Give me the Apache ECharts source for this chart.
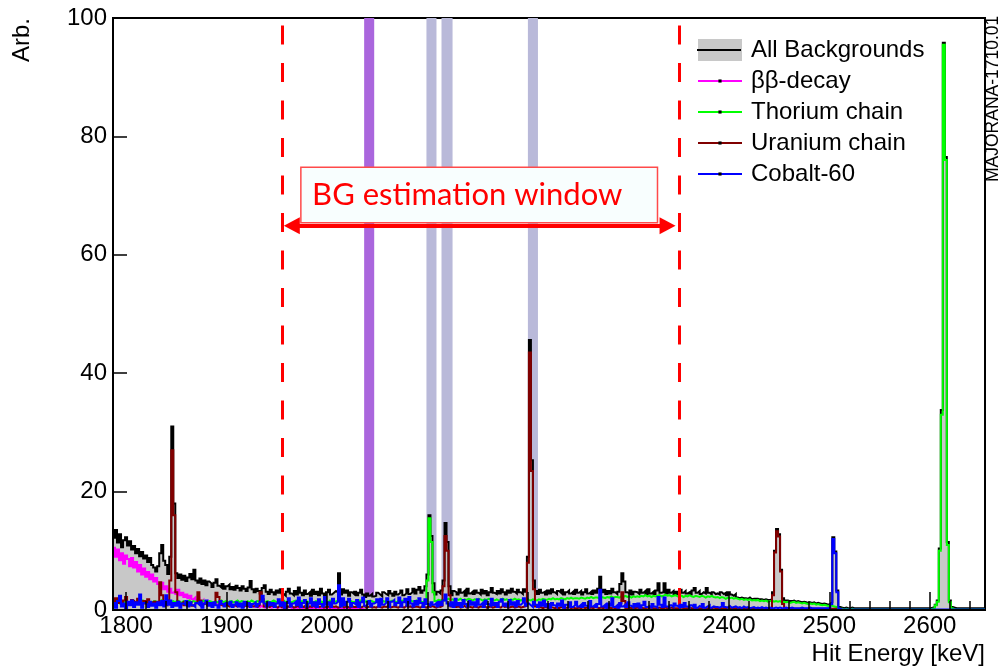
<!DOCTYPE html>
<html>
<head>
<meta charset="utf-8">
<script src="https://cdn.jsdelivr.net/npm/echarts@6/dist/echarts.min.js"></script>
<style>
  html, body { margin: 0; padding: 0; background: #ffffff; }
  #chart { width: 1004px; height: 666px; }
</style>
</head>
<body>
<div id="chart"></div>
<script>
// ---- Axis ranges and binning (keV) ----
const energyMin = 1787;
const energyMax = 2655;
const binStart = 1787;
const binWidth = 2;
const majorTicks = [1800, 1900, 2000, 2100, 2200, 2300, 2400, 2500, 2600];
const minorTicks = [1800, 1820, 1840, 1860, 1880, 1900, 1920, 1940, 1960, 1980, 2000, 2020, 2040, 2060, 2080,
  2100, 2120, 2140, 2160, 2180, 2200, 2220, 2240, 2260, 2280, 2300, 2320, 2340, 2360, 2380, 2400, 2420, 2440,
  2460, 2480, 2500, 2520, 2540, 2560, 2580, 2600, 2620, 2640];

// ---- Histogram contents, one value per 2 keV bin starting at binStart ----
const allBackgrounds = [
  12.2,13.5,11.4,12.8,10.6,11.8,12.3,10.9,11.6,10.2,
  10.8,9.6,10.3,9.1,9.8,8.7,9.2,8.1,8.8,7.6,
  7.2,6.5,7.4,9.6,11.0,8.3,7.6,6.1,9.0,31.0,
  18.0,6.2,5.4,6.0,5.1,5.8,4.9,5.5,6.1,5.2,
  6.8,5.0,4.6,5.3,4.4,5.0,4.2,4.8,4.5,3.9,
  4.6,5.2,4.1,3.8,4.4,3.6,4.0,4.3,3.5,3.9,
  3.4,4.1,3.7,3.3,4.0,3.6,3.2,3.8,4.9,3.5,
  3.0,3.6,3.2,2.8,3.7,4.2,3.1,2.7,3.4,3.0,
  2.6,3.3,2.9,3.5,2.7,2.4,3.1,3.6,2.8,2.5,
  3.2,2.6,3.8,2.9,2.5,3.3,2.7,3.0,2.4,3.4,
  2.7,3.1,2.5,3.6,2.8,2.3,3.0,3.4,2.6,2.9,
  3.2,3.0,6.2,2.6,3.5,2.9,3.3,2.4,3.0,2.7,
  3.1,2.5,2.9,3.4,2.6,2.2,2.8,2.4,2.7,2.3,
  2.4,2.9,2.6,2.3,3.0,2.7,2.5,3.2,2.8,2.4,
  3.1,2.6,2.9,3.3,2.5,2.8,3.5,2.7,3.0,3.6,
  2.8,3.4,3.9,2.9,3.3,4.0,6.0,16.0,12.5,4.5,
  2.6,3.1,2.8,3.3,5.0,14.7,11.5,4.0,2.5,3.2,
  3.0,2.6,3.5,2.9,3.2,2.4,3.6,2.8,3.1,2.7,
  3.3,2.9,2.6,3.4,2.8,3.2,2.5,3.0,3.7,2.9,
  2.7,3.2,2.8,3.5,3.0,2.6,3.3,2.9,3.6,3.1,
  2.8,3.4,3.0,2.7,3.5,3.1,9.0,45.6,25.3,5.0,
  3.2,2.7,3.4,2.9,3.1,2.6,3.3,2.8,3.5,3.0,
  2.7,3.2,2.9,3.4,2.6,3.0,3.3,2.8,3.1,2.7,
  3.4,2.9,3.2,2.6,3.0,3.5,2.8,3.1,2.7,3.3,
  2.9,3.6,5.6,3.0,3.4,2.7,3.2,2.8,3.6,3.0,
  2.7,3.1,4.4,6.2,4.8,3.0,2.8,3.3,2.6,3.1,
  3.0,2.7,3.4,2.9,3.2,2.6,3.5,2.8,3.1,2.7,
  3.3,4.5,2.9,3.0,4.5,2.8,3.4,2.9,3.2,2.6,
  3.1,2.7,3.4,2.9,3.2,2.8,3.0,2.6,3.3,3.7,
  2.9,3.2,2.7,3.0,2.8,3.7,2.9,2.6,3.0,2.7,
  2.8,2.6,3.0,2.7,2.9,2.5,3.0,2.6,2.4,2.7,
  2.1,2.0,2.1,2.0,2.0,1.9,2.1,1.8,1.9,1.9,
  1.9,1.8,1.8,1.7,1.8,1.7,1.7,1.8,3.0,10.0,
  13.7,12.8,6.8,2.0,1.6,1.6,1.5,1.5,1.6,1.4,
  1.5,1.4,1.3,1.4,1.3,1.2,1.3,1.2,1.3,1.1,
  1.2,1.1,1.0,1.1,1.0,0.9,1.0,1.3,12.3,9.9,
  3.3,0.5,0.4,0.3,0.4,0.3,0.3,0.4,0.3,0.3,
  0.3,0.3,0.3,0.3,0.3,0.3,0.3,0.3,0.3,0.3,
  0.3,0.3,0.3,0.3,0.3,0.3,0.3,0.3,0.3,0.3,
  0.3,0.3,0.3,0.3,0.3,0.3,0.3,0.3,0.3,0.3,
  0.3,0.3,0.3,0.3,0.3,0.3,0.3,0.4,0.5,0.9,
  1.6,10.4,33.8,95.8,76.5,11.5,1.6,0.5,0.4,0.3,
  0.3,0.3,0.3,0.3,0.3,0.3,0.3,0.3,0.3,0.3,
  0.3,0.3,0.3,0.3
];

const bbDecay = [
  10.5,9.0,10.2,8.4,9.6,7.8,9.2,8.6,7.4,8.8,
  7.2,8.1,6.5,7.6,6.0,7.0,5.6,6.4,5.2,6.0,
  4.8,5.4,4.4,3.8,4.6,3.5,4.0,3.1,3.6,2.9,
  3.2,2.7,3.4,2.5,2.9,2.2,2.6,2.0,2.4,1.8,
  2.1,1.6,1.9,1.4,1.7,1.2,1.5,1.1,1.3,1.0,
  1.2,0.9,1.1,0.8,1.0,0.7,0.9,0.8,0.6,0.9,
  0.7,0.8,0.6,0.7,0.5,0.8,0.6,0.5,0.7,0.6,
  0.5,0.6,0.4,0.7,0.5,0.4,0.6,0.5,0.4,0.5,
  0.5,0.3,0.6,0.4,0.5,0.3,0.4,0.6,0.3,0.4,
  0.4,0.3,0.5,0.3,0.4,0.3,0.4,0.3,0.3,0.4,
  0.3,0.4,0.3,0.2,0.4,0.3,0.2,0.3,0.3,0.2,
  0.3,0.2,0.3,0.2,0.2,0.3,0.2,0.2,0.3,0.2,
  0.2,0.2,0.1,0.2,0.1,0.1
];

const thoriumChain = [
  1.3,1.5,1.2,1.6,1.4,1.3,1.5,1.2,1.4,1.6,
  1.3,1.4,1.5,1.2,1.6,1.4,1.3,1.5,1.2,1.4,
  1.5,1.3,1.4,1.6,1.2,1.4,1.5,1.3,1.4,1.5,
  1.3,1.6,1.4,1.2,1.5,1.3,1.4,1.6,1.3,1.5,
  1.4,1.2,1.5,1.3,1.6,1.4,1.3,1.5,1.4,1.2,
  1.5,1.3,1.4,1.6,1.3,1.5,1.2,1.4,1.5,1.3,
  1.4,1.6,1.3,1.5,1.4,1.2,1.5,1.3,1.6,1.4,
  1.3,1.5,1.4,1.6,1.3,1.4,1.5,1.3,1.4,1.6,
  1.4,1.3,1.5,1.4,1.6,1.3,1.5,1.4,1.3,1.5,
  1.6,1.4,1.3,1.5,1.4,1.6,1.3,1.5,1.4,1.3,
  1.5,1.4,1.6,1.3,1.5,1.4,1.3,1.6,1.4,1.5,
  1.4,1.6,1.3,1.5,1.4,1.3,1.5,1.6,1.4,1.3,
  1.5,1.4,1.6,1.4,1.3,1.5,1.4,1.6,1.5,1.3,
  1.4,1.5,1.3,1.6,1.4,1.5,1.3,1.4,1.6,1.5,
  1.3,1.5,1.4,1.6,1.5,1.3,1.4,1.6,1.5,1.4,
  1.6,1.4,1.5,1.3,1.5,1.6,5.0,15.5,11.5,3.0,
  1.5,1.7,1.6,1.8,1.6,1.7,1.9,1.7,1.8,1.6,
  1.8,1.7,1.9,1.6,1.8,1.7,1.9,1.8,1.6,1.8,
  1.7,1.9,1.8,1.6,1.8,1.7,1.9,1.8,1.7,1.6,
  1.8,1.6,1.7,1.9,1.7,1.8,1.6,1.8,1.7,1.9,
  1.7,1.8,1.6,1.8,1.7,1.9,1.7,1.6,1.8,1.7,
  1.6,1.8,1.7,1.9,1.8,1.7,1.9,1.8,2.0,1.8,
  1.9,1.8,2.0,1.9,1.8,2.0,1.9,2.1,1.9,2.0,
  2.0,1.9,2.1,2.0,1.9,2.1,2.0,2.2,2.0,2.1,
  2.1,2.0,2.2,2.1,2.0,2.2,2.1,2.3,2.1,2.2,
  2.2,2.1,2.3,2.2,2.4,2.2,2.3,2.1,2.3,2.2,
  2.3,2.2,2.4,2.3,2.5,2.3,2.4,2.2,2.4,2.3,
  2.4,2.5,2.3,2.4,2.6,2.4,2.5,2.3,2.4,2.5,
  2.3,2.5,2.4,2.2,2.4,2.3,2.5,2.3,2.2,2.4,
  2.3,2.2,2.4,2.3,2.1,2.3,2.2,2.4,2.2,2.1,
  2.2,2.0,2.2,2.1,1.9,2.1,2.0,2.1,1.9,2.0,
  1.9,1.8,1.9,1.7,1.8,1.7,1.8,1.6,1.7,1.6,
  1.7,1.5,1.6,1.5,1.6,1.4,1.5,1.6,1.4,1.5,
  1.4,1.5,1.3,1.4,1.3,1.4,1.2,1.3,1.4,1.2,
  1.3,1.2,1.1,1.2,1.1,1.0,1.1,1.0,1.1,0.9,
  1.0,0.9,0.8,0.9,0.8,0.7,0.8,0.7,0.6,0.5,
  0.3,0.2,0.2,0.1,0.2,0.1,0.1,0.2,0.1,0.1,
  0.1,0.1,0.1,0.1,0.1,0.1,0.1,0.1,0.1,0.1,
  0.1,0.1,0.1,0.1,0.1,0.1,0.1,0.1,0.1,0.1,
  0.1,0.1,0.1,0.1,0.1,0.1,0.1,0.1,0.1,0.1,
  0.1,0.1,0.1,0.1,0.1,0.1,0.1,0.2,0.3,0.8,
  1.4,10.0,33.0,95.5,76.0,11.0,1.3,0.3,0.1,0.1,
  0.1,0.1,0.1,0.1,0.1,0.1,0.1,0.1,0.1,0.1,
  0.1,0.1,0.1,0.1
];

const uraniumChain = [
  1.5,2.0,1.2,1.8,1.0,1.6,2.2,1.3,1.1,1.7,
  1.4,1.0,1.9,1.2,0.9,1.5,1.1,1.8,1.0,1.3,
  0.9,1.4,1.0,4.7,2.5,1.2,0.9,1.6,5.0,27.0,
  16.0,3.0,1.4,1.0,1.3,0.8,1.1,0.9,1.2,0.7,
  1.0,1.3,3.0,1.6,0.9,1.1,0.8,1.0,0.7,0.9,
  1.2,2.9,2.2,0.9,0.7,1.0,0.8,0.6,0.9,0.7,
  0.8,0.6,0.9,0.7,0.5,0.8,0.6,0.9,0.7,0.6,
  0.7,0.5,0.8,3.0,1.8,0.6,0.7,0.5,0.8,0.6,
  0.6,0.4,0.7,0.5,0.8,0.4,0.6,0.5,0.7,0.4,
  0.5,0.7,0.4,0.6,0.5,0.8,0.4,0.6,0.5,0.7,
  0.4,0.6,0.5,0.7,0.4,0.5,0.6,0.4,0.7,0.5,
  0.6,0.4,0.5,0.7,0.4,0.6,0.5,0.4,0.6,0.5,
  0.5,0.6,0.4,0.5,0.7,0.4,0.5,0.6,0.4,0.5,
  0.4,0.6,0.5,0.4,0.6,0.5,0.7,0.4,0.5,0.6,
  0.5,0.4,0.6,0.5,0.4,0.7,0.5,0.6,0.4,0.5,
  0.6,0.5,0.4,0.6,0.5,0.4,0.6,0.5,0.7,0.5,
  0.4,0.6,0.5,0.7,4.0,12.5,10.0,2.5,0.6,0.5,
  0.5,0.6,0.4,0.5,0.7,0.4,0.6,0.5,0.4,0.6,
  0.5,0.4,0.6,0.5,0.7,0.4,0.5,0.6,0.4,0.5,
  0.6,0.5,0.4,0.7,0.5,0.6,0.4,0.5,0.6,0.4,
  0.5,0.6,0.4,0.5,0.6,0.7,8.0,43.5,23.5,3.5,
  0.6,0.4,0.5,0.3,0.5,0.4,0.3,0.5,0.4,0.3,
  0.4,0.3,0.5,0.4,0.3,0.4,0.5,0.3,0.4,0.3,
  0.3,0.4,0.3,0.5,0.3,0.4,0.3,0.4,0.3,0.5,
  0.4,0.3,0.4,0.3,0.5,0.3,0.4,0.3,0.4,0.3,
  0.3,0.4,1.2,3.0,1.5,0.3,0.4,0.3,0.4,0.3,
  0.4,0.3,0.4,0.3,0.3,0.4,0.3,0.4,0.3,0.3,
  0.3,0.4,0.3,0.3,0.4,0.3,0.3,0.4,0.3,0.3,
  0.3,0.3,0.4,0.3,0.3,0.3,0.4,0.3,0.3,0.3,
  0.3,0.3,0.3,0.4,0.3,0.3,0.3,0.3,0.4,0.3,
  0.3,0.3,0.3,0.3,0.3,0.4,0.3,0.3,0.3,0.3,
  0.3,0.3,0.3,0.3,0.3,0.3,0.3,0.3,0.3,0.3,
  0.3,0.3,0.3,0.3,0.3,0.3,0.3,0.3,2.5,9.7,
  13.3,12.4,6.5,1.0,0.3,0.3,0.3,0.3,0.2,0.2,
  0.2,0.2,0.2,0.2,0.2,0.2,0.2,0.2,0.2,0.2,
  0.2,0.2,0.2,0.2,0.2,0.2,0.2,0.2,0.2,0.2
];

const cobalt60 = [
  1.2,0.4,1.5,2.4,0.6,1.1,0.3,1.4,0.8,1.6,
  0.5,1.3,0.9,2.6,0.4,1.2,1.0,0.5,1.4,0.7,
  1.1,0.4,1.3,0.8,1.5,0.6,2.5,0.9,1.6,0.5,
  1.2,0.7,1.4,0.4,1.1,0.9,1.5,0.6,1.3,0.8,
  0.5,1.2,0.9,1.4,0.4,1.1,1.6,0.7,1.2,0.5,
  1.3,0.8,0.4,1.5,1.0,0.6,1.2,0.9,1.4,0.5,
  0.9,1.3,0.6,1.1,0.4,1.4,0.8,1.2,0.5,1.0,
  1.3,0.6,1.0,1.4,2.4,1.1,0.6,1.3,0.8,1.2,
  0.5,1.1,1.8,0.7,1.3,0.4,1.2,2.0,0.6,1.1,
  1.4,0.8,2.1,0.5,1.2,1.7,0.6,1.1,2.0,0.7,
  1.3,0.5,1.8,1.0,0.6,2.2,0.9,1.3,0.5,1.9,
  1.1,1.4,4.2,0.6,2.0,0.8,1.4,1.9,0.6,1.2,
  0.9,1.7,0.5,1.3,2.1,0.7,1.0,1.5,0.6,1.1,
  1.3,1.8,0.6,1.9,0.9,1.2,2.0,0.5,1.4,1.7,
  0.8,1.2,2.1,0.6,1.3,1.9,0.7,2.2,1.1,0.6,
  1.5,0.9,2.0,1.2,0.5,1.8,1.0,0.7,1.3,0.9,
  1.2,0.6,1.4,0.8,1.6,2.6,1.1,0.7,1.3,0.5,
  1.9,0.8,1.2,0.5,1.7,1.0,0.6,1.5,0.9,1.3,
  0.6,1.8,0.9,1.2,0.5,1.6,1.0,0.7,1.9,0.8,
  1.2,0.5,1.4,1.8,0.7,1.1,0.6,1.7,0.9,1.3,
  0.6,1.5,0.9,1.2,2.0,0.7,1.1,0.8,0.5,1.4,
  0.9,0.5,1.3,0.7,1.6,0.6,1.0,0.4,1.2,0.8,
  0.5,1.1,0.7,1.6,0.4,0.9,0.6,1.3,0.5,0.8,
  1.4,0.6,0.9,0.5,1.2,0.7,0.4,1.5,0.6,0.9,
  0.5,1.0,3.4,0.6,0.9,0.4,1.1,0.7,2.0,0.5,
  0.8,0.4,1.2,0.6,0.9,0.5,1.3,0.7,0.4,1.0,
  0.6,1.1,0.4,0.8,1.4,0.5,0.7,0.4,1.0,0.6,
  0.4,2.2,0.9,0.5,2.1,0.6,0.4,0.8,0.5,1.1,
  0.7,0.4,0.9,0.5,1.2,0.6,0.4,0.8,0.5,0.9,
  0.4,0.7,0.5,1.0,0.4,0.6,0.8,0.4,0.6,0.5,
  0.5,0.4,0.6,1.2,0.5,0.4,0.7,0.4,0.5,0.6,
  0.4,0.5,0.3,0.6,0.4,0.5,0.3,0.4,0.5,0.3,
  0.4,0.3,0.5,0.3,0.4,0.3,0.4,0.3,0.3,0.4,
  0.3,0.4,0.3,0.3,0.4,0.3,0.3,0.4,0.3,0.3,
  0.3,0.3,0.4,0.3,0.3,0.3,0.4,0.3,0.3,0.3,
  0.3,0.3,0.3,0.3,0.3,0.3,0.4,1.0,12.0,9.6,
  3.0,0.2,0.1,0.1,0.1,0.1,0.1,0.1,0.1,0.1,
  0.1,0.1,0.1,0.1,0.1,0.1,0.1,0.1,0.1,0.1,
  0.1,0.1,0.1,0.1,0.1,0.1,0.1,0.1,0.1,0.1,
  0.1,0.1,0.1,0.1,0.1,0.1,0.1,0.1,0.1,0.1,
  0.1,0.1,0.1,0.1,0.1,0.1,0.1,0.1,0.1,0.1,
  0.1,0.1,0.1,0.1,0.1,0.1,0.1,0.1,0.1,0.1,
  0.1,0.1,0.1,0.1,0.1,0.1,0.1,0.1,0.1,0.1,
  0.1,0.1,0.1,0.1
];

// ---- Analysis windows (keV) ----
const bgWindow = [1955, 2351];
const qbbWindow = [2037, 2047];
const excludedPeaks = [[2099, 2109], [2114, 2125], [2200, 2210]];
const windowArrow = { from: 1965, to: 2339, level: 64.9 };
const windowLabel = { text: 'BG estimation window', from: [1974, 74.8], to: [2329, 65.4] };

const seriesNames = ['All Backgrounds', 'ββ-decay', 'Thorium chain', 'Uranium chain', 'Cobalt-60'];
const seriesColors = ['#000000', '#ff00ff', '#00ff00', '#800000', '#0000ff'];

// Turn bin contents into step-line points that close down to zero at both ends
function histPoints(values) {
  const pts = [[binStart, 0]];
  values.forEach((v, i) => pts.push([binStart + i * binWidth, v]));
  const end = binStart + values.length * binWidth;
  pts.push([end, values[values.length - 1]]);
  pts.push([end, 0]);
  return pts;
}

// Tiny centred square used as the legend marker dot
const dotSymbol = 'path://M0,0L0,0M41,41L59,41L59,59L41,59ZM100,100L100,100';

const FONT = '"Liberation Sans", Arial, Helvetica, sans-serif';
const legendBox = { left: 697, top: 38, itemWidth: 44, itemHeight: 22, rowHeight: 24 };

function histSeries(idx, values, z, extra) {
  return Object.assign({
    name: seriesNames[idx],
    type: 'line',
    step: 'end',
    data: histPoints(values),
    symbol: dotSymbol,
    showSymbol: false,
    z: z,
    silent: true,
    lineStyle: { color: seriesColors[idx], width: 2, join: 'miter', cap: 'butt' },
    itemStyle: { color: seriesColors[idx] }
  }, extra || {});
}

const chart = echarts.init(document.getElementById('chart'), null, { renderer: 'canvas' });

const option = {
  animation: false,
  backgroundColor: '#ffffff',
  grid: {
    left: 113, right: 19, top: 18, bottom: 56,
    show: true, borderColor: '#000', borderWidth: 2, backgroundColor: 'transparent'
  },
  xAxis: [
    {
      type: 'value', min: energyMin, max: energyMax, z: 8,
      name: 'Hit Energy [keV]', nameLocation: 'end', nameGap: 0,
      nameTextStyle: { fontFamily: FONT, fontSize: 24, color: '#000', align: 'right', verticalAlign: 'top', padding: [32, 0, 0, 0] },
      axisLine: { show: true, onZero: false, lineStyle: { color: '#000', width: 2 } },
      axisTick: { show: true, inside: true, length: 18, customValues: majorTicks, lineStyle: { color: '#000', width: 1.5 } },
      axisLabel: { show: true, customValues: majorTicks, formatter: v => String(v), fontFamily: FONT, fontSize: 24, color: '#000', margin: 4 },
      splitLine: { show: false }
    },
    {
      type: 'value', min: energyMin, max: energyMax, position: 'bottom', z: 8,
      axisLine: { show: false },
      axisTick: { show: true, inside: true, length: 9, customValues: minorTicks, lineStyle: { color: '#000', width: 1.5 } },
      axisLabel: { show: false },
      splitLine: { show: false }
    }
  ],
  yAxis: {
    type: 'value', min: 0, max: 100, interval: 20, z: 8,
    axisLine: { show: true, onZero: false, lineStyle: { color: '#000', width: 2 } },
    axisTick: { show: true, inside: true, length: 14, lineStyle: { color: '#000', width: 1.5 } },
    axisLabel: { fontFamily: FONT, fontSize: 24, color: '#000', margin: 6 },
    splitLine: { show: false }
  },
  legend: {
    orient: 'vertical',
    left: legendBox.left, top: legendBox.top, padding: 0,
    itemWidth: legendBox.itemWidth, itemHeight: legendBox.itemHeight, itemGap: 7,
    selectedMode: false,
    textStyle: { fontFamily: FONT, fontSize: 24, color: '#000', lineHeight: legendBox.rowHeight, padding: [0, 0, 0, 4] },
    data: [
      { name: seriesNames[0], icon: 'rect', itemStyle: { color: '#c8c8c8' } },
      { name: seriesNames[1], itemStyle: { color: '#000' } },
      { name: seriesNames[2], itemStyle: { color: '#000' } },
      { name: seriesNames[3], itemStyle: { color: '#000' } },
      { name: seriesNames[4], itemStyle: { color: '#000' } }
    ]
  },
  graphic: [
    // black line through the grey legend swatch
    {
      type: 'line', z: 100,
      shape: {
        x1: legendBox.left, y1: legendBox.top + legendBox.rowHeight / 2,
        x2: legendBox.left + legendBox.itemWidth, y2: legendBox.top + legendBox.rowHeight / 2
      },
      style: { stroke: '#000', lineWidth: 2 }
    },
    {
      type: 'text', x: 34, y: 62, rotation: Math.PI / 2, z: 100,
      style: { text: 'Arb.', font: '24px ' + FONT, fill: '#000', textAlign: 'left', textVerticalAlign: 'bottom' }
    },
    {
      type: 'text', x: 1002, y: 182, rotation: Math.PI / 2, z: 100,
      style: { text: 'MAJORANA-1710.01', font: '17.5px ' + FONT, fill: '#000', textAlign: 'left', textVerticalAlign: 'bottom' }
    }
  ],
  series: [
    // excluded gamma-line windows, behind the spectra
    {
      type: 'line', data: [], z: 1, silent: true,
      markArea: {
        silent: true,
        itemStyle: { color: '#b9b9d9', opacity: 1 },
        data: excludedPeaks.map(w => [{ xAxis: w[0], yAxis: 0 }, { xAxis: w[1], yAxis: 100 }])
      }
    },
    histSeries(0, allBackgrounds, 2, { areaStyle: { color: '#c8c8c8', opacity: 1 } }),
    histSeries(1, bbDecay, 3),
    histSeries(2, thoriumChain, 4),
    histSeries(3, uraniumChain, 5),
    histSeries(4, cobalt60, 6),
    // Q-value window
    {
      type: 'line', data: [], z: 9, silent: true,
      markArea: {
        silent: true,
        itemStyle: { color: '#aa66dd', opacity: 1 },
        data: [[{ xAxis: qbbWindow[0], yAxis: 0 }, { xAxis: qbbWindow[1], yAxis: 100 }]]
      }
    },
    // background window edges, label box and arrow
    {
      type: 'line', data: [], z: 10, silent: true,
      markLine: {
        silent: true,
        symbol: ['none', 'none'],
        label: { show: false },
        lineStyle: { color: '#ff0000', width: 3, type: [19, 18.5], dashOffset: 34.5 },
        data: bgWindow.map(e => ({ xAxis: e }))
      }
    },
    {
      type: 'line', data: [], z: 11, silent: true,
      markArea: {
        silent: true,
        itemStyle: { color: '#f8fefe', borderColor: '#ff4a4a', borderWidth: 1.5, opacity: 1 },
        label: { show: true, position: 'insideLeft', distance: 12, color: '#ff0000', fontFamily: 'Lato, "Noto Sans", sans-serif', fontSize: 31 },
        data: [[{ name: windowLabel.text, coord: windowLabel.from }, { coord: windowLabel.to }]]
      }
    },
    {
      type: 'line', data: [], z: 12, silent: true,
      markLine: {
        silent: true,
        symbol: ['triangle', 'triangle'],
        symbolSize: [17, 16],
        label: { show: false },
        lineStyle: { color: '#ff0000', width: 4, type: 'solid' },
        itemStyle: { color: '#ff0000' },
        data: [[{ coord: [windowArrow.from, windowArrow.level] }, { coord: [windowArrow.to, windowArrow.level] }]]
      }
    }
  ]
};

chart.setOption(option);
</script>
</body>
</html>
